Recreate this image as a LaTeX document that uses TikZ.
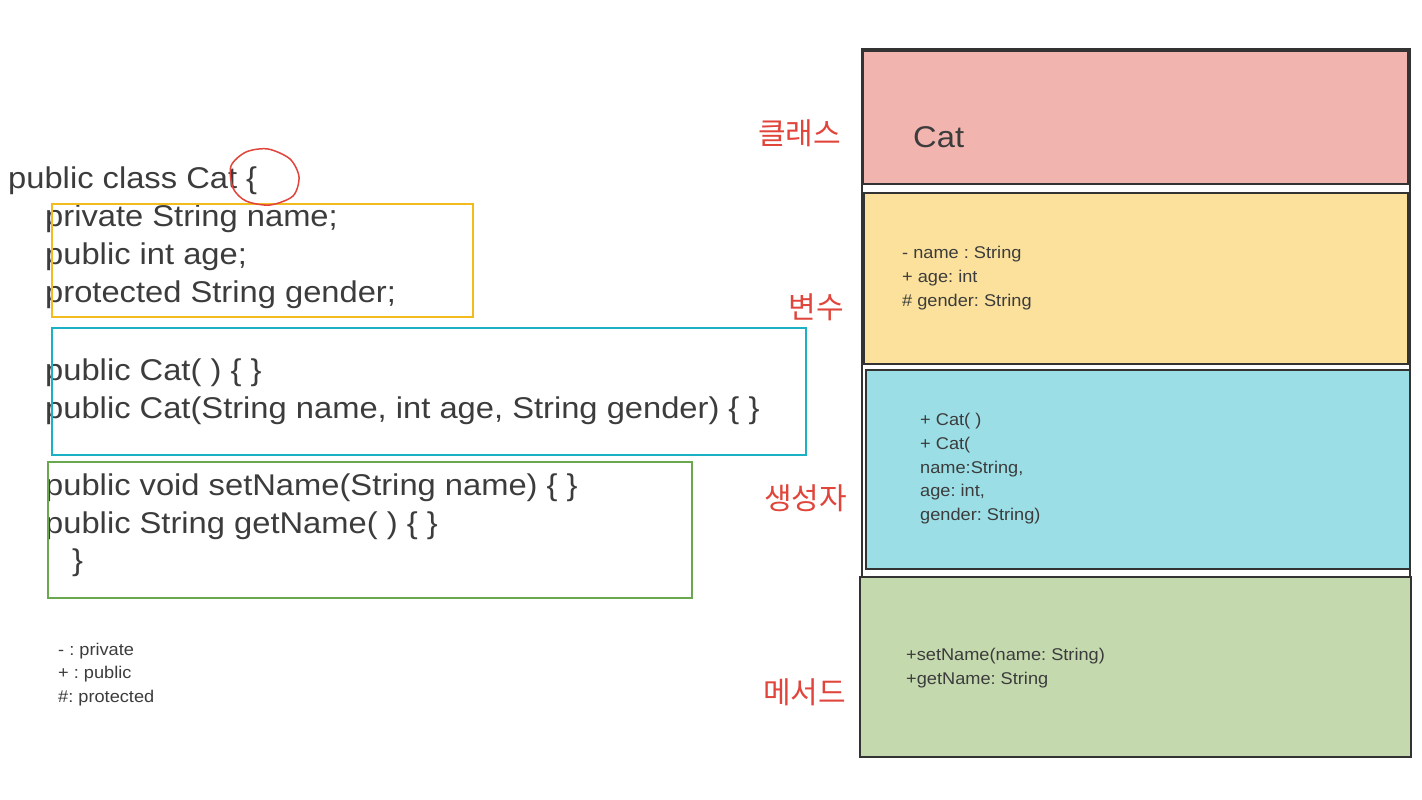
\documentclass[tikz,border=0pt]{standalone}
\usepackage{fontspec}
\setmainfont{Liberation Sans}
\newfontfamily\codefont[FakeStretch=1.09]{Liberation Sans}
\newfontfamily\memberfont[FakeStretch=1.07]{Liberation Sans}
\newfontfamily\krfont{Noto Sans CJK KR}
\usepackage{xcolor}
\usepackage{tikz}
\usetikzlibrary{positioning}
\frenchspacing

\definecolor{ink}{HTML}{3C3C3C}
\definecolor{frame}{HTML}{333333}
\definecolor{tagred}{HTML}{E0443A}
\definecolor{classpink}{HTML}{F2B4AF}
\definecolor{fieldyellow}{HTML}{FBE19B}
\definecolor{ctorcyan}{HTML}{9BDEE6}
\definecolor{methodgreen}{HTML}{C4D9AE}
\definecolor{fieldline}{HTML}{F2BC1E}
\definecolor{ctorline}{HTML}{1CB0C4}
\definecolor{methodline}{HTML}{6AA84F}

\begin{document}
\begin{tikzpicture}[x=1pt,y=-1pt,
  code/.style={anchor=base west, inner sep=0pt, text=ink, font=\codefont\fontsize{30}{36}\selectfont},
  member/.style={anchor=base west, inner sep=0pt, text=ink, font=\memberfont\fontsize{17}{20}\selectfont},
  tag/.style={anchor=base east, inner sep=0pt, text=tagred, font=\krfont\fontsize{30}{34}\selectfont},
  panel/.style={draw=frame, line width=1.8pt},
  hilite/.style={line width=1.5pt}
]
\useasboundingbox (0,0) rectangle (1422,800);

% source code on the left
\node[code] (decl) at (8,188) {public class Cat \{};
\node[code] (fname) at (45,226) {private String name;};
\node[code] (fage) at (45,264) {public int age;};
\node[code] (fgender) at (45,302) {protected String gender;};
\node[code] (ctorA) at (45,380) {public Cat( ) \{ \}};
\node[code] (ctorB) at (45,418) {public Cat(String name, int age, String gender) \{ \}};
\node[code] (setter) at (45,495) {public void setName(String name) \{ \}};
\node[code] (getter) at (45,533) {public String getName( ) \{ \}};
\node[code] (close) at (72,570) {\}};

\draw[hilite, fieldline] (52,204) rectangle (473,317);
\draw[hilite, ctorline] (52,328) rectangle (806,455);
\draw[hilite, methodline] (48,462) rectangle (692,598);
\draw[hilite, tagred] plot[smooth cycle] coordinates
  {(231,166) (246,152) (268,149) (290,159) (299,177) (293,196) (270,205) (246,201) (233,188)};

% legend
\foreach \y/\txt [count=\i] in {655/{- : private},678/{+ : public},702/{\#: protected}}
  \node[member] (leg\i) at (58,\y) {\txt};

% class diagram on the right
\draw[panel] (862,49) rectangle (1410,577);
\draw[panel, fill=classpink] (863,51) rectangle (1408,184);
\draw[panel, fill=fieldyellow] (864,193) rectangle (1408,364);
\draw[panel, fill=ctorcyan] (866,370) rectangle (1410,569);
\draw[panel, fill=methodgreen] (860,577) rectangle (1411,757);

\node[code, font=\codefont\fontsize{30}{36}\selectfont] (cname) at (913,147) {Cat};
\foreach \y/\txt [count=\i] in {258/{- name : String},282/{+ age: int},306/{\# gender: String}}
  \node[member] (attr\i) at (902,\y) {\txt};
\foreach \y/\txt [count=\i] in {425/{+ Cat( )},449/{+ Cat(},473/{name:String,},496/{age: int,},520/{gender: String)}}
  \node[member] (ctor\i) at (920,\y) {\txt};
\foreach \y/\txt [count=\i] in {660/{+setName(name: String)},684/{+getName: String}}
  \node[member] (op\i) at (906,\y) {\txt};

% section labels
\node[tag] (tclass) at (841,144) {클래스};
\node[tag] (tfield) at (844,318) {변수};
\node[tag] (tctor) at (847,509) {생성자};
\node[tag] (tmethod) at (846,703) {메서드};
\end{tikzpicture}
\end{document}
